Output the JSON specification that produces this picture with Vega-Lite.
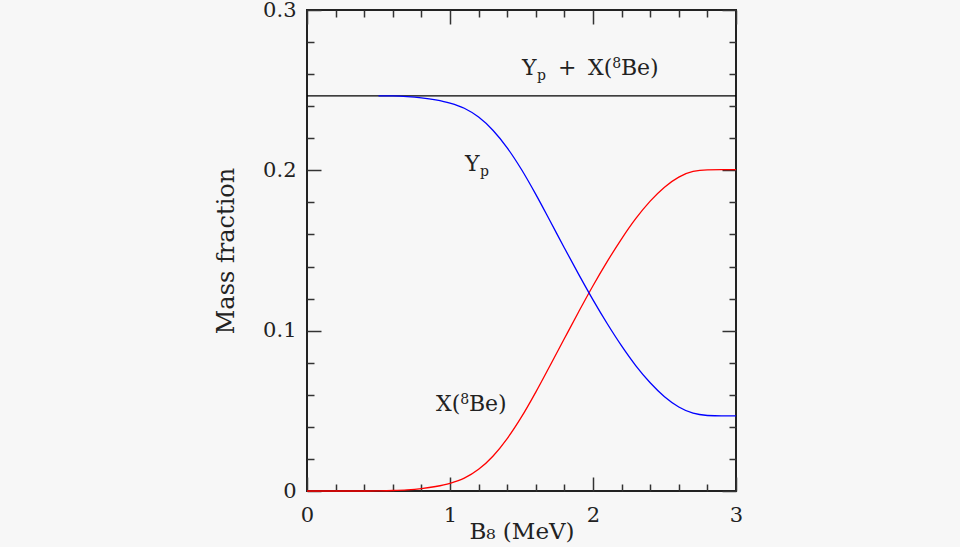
{
  "$schema": "https://vega.github.io/schema/vega-lite/v6.json",
  "width": 429,
  "height": 481,
  "autosize": {"type": "none"},
  "padding": {"left": 307, "top": 10, "right": 224, "bottom": 56},
  "background": "#f7f7f7",
  "config": {
    "view": {"stroke": "#222222", "strokeWidth": 2},
    "font": "DejaVu Serif",
    "text": {"font": "DejaVu Serif", "fontSize": 22, "color": "#222222"}
  },
  "datasets": {
    "curves": [
      {"x": 0.0, "series": "X", "value": 0.0},
      {"x": 0.1, "series": "X", "value": 0.0},
      {"x": 0.2, "series": "X", "value": 0.0},
      {"x": 0.3, "series": "X", "value": 0.0},
      {"x": 0.4, "series": "X", "value": 0.0},
      {"x": 0.5, "series": "X", "value": 0.0001},
      {"x": 0.6, "series": "X", "value": 0.0003},
      {"x": 0.7, "series": "X", "value": 0.0007},
      {"x": 0.8, "series": "X", "value": 0.0015},
      {"x": 0.9, "series": "X", "value": 0.0028},
      {"x": 1.0, "series": "X", "value": 0.0048},
      {"x": 1.1, "series": "X", "value": 0.008},
      {"x": 1.2, "series": "X", "value": 0.0135},
      {"x": 1.3, "series": "X", "value": 0.0217},
      {"x": 1.4, "series": "X", "value": 0.0327},
      {"x": 1.5, "series": "X", "value": 0.0462},
      {"x": 1.6, "series": "X", "value": 0.0617},
      {"x": 1.7, "series": "X", "value": 0.0783},
      {"x": 1.8, "series": "X", "value": 0.0951},
      {"x": 1.9, "series": "X", "value": 0.1118},
      {"x": 2.0, "series": "X", "value": 0.128},
      {"x": 2.1, "series": "X", "value": 0.1432},
      {"x": 2.2, "series": "X", "value": 0.1573},
      {"x": 2.3, "series": "X", "value": 0.17},
      {"x": 2.4, "series": "X", "value": 0.1808},
      {"x": 2.5, "series": "X", "value": 0.1895},
      {"x": 2.6, "series": "X", "value": 0.1958},
      {"x": 2.7, "series": "X", "value": 0.1993},
      {"x": 2.8, "series": "X", "value": 0.2003},
      {"x": 2.9, "series": "X", "value": 0.2004},
      {"x": 3.0, "series": "X", "value": 0.2004},
      {"x": 0.5, "series": "Yp", "value": 0.2465},
      {"x": 0.6, "series": "Yp", "value": 0.2464},
      {"x": 0.7, "series": "Yp", "value": 0.246},
      {"x": 0.8, "series": "Yp", "value": 0.2452},
      {"x": 0.9, "series": "Yp", "value": 0.2439},
      {"x": 1.0, "series": "Yp", "value": 0.2419},
      {"x": 1.1, "series": "Yp", "value": 0.2387},
      {"x": 1.2, "series": "Yp", "value": 0.2332},
      {"x": 1.3, "series": "Yp", "value": 0.225},
      {"x": 1.4, "series": "Yp", "value": 0.214},
      {"x": 1.5, "series": "Yp", "value": 0.2005},
      {"x": 1.6, "series": "Yp", "value": 0.185},
      {"x": 1.7, "series": "Yp", "value": 0.1684},
      {"x": 1.8, "series": "Yp", "value": 0.1516},
      {"x": 1.9, "series": "Yp", "value": 0.1351},
      {"x": 2.0, "series": "Yp", "value": 0.1192},
      {"x": 2.1, "series": "Yp", "value": 0.1043},
      {"x": 2.2, "series": "Yp", "value": 0.0905},
      {"x": 2.3, "series": "Yp", "value": 0.0781},
      {"x": 2.4, "series": "Yp", "value": 0.0675},
      {"x": 2.5, "series": "Yp", "value": 0.0588},
      {"x": 2.6, "series": "Yp", "value": 0.0524},
      {"x": 2.7, "series": "Yp", "value": 0.0485},
      {"x": 2.8, "series": "Yp", "value": 0.0471},
      {"x": 2.9, "series": "Yp", "value": 0.0468},
      {"x": 3.0, "series": "Yp", "value": 0.0468}
    ],
    "total": [
      {"x": 0.0, "series": "total", "value": 0.2465},
      {"x": 3.0, "series": "total", "value": 0.2465}
    ],
    "labels": [
      {"text": "Y", "lx": 1.503, "ly": 0.2595, "size": "big"},
      {"text": "p", "lx": 1.608, "ly": 0.2563, "size": "small"},
      {"text": "+", "lx": 1.755, "ly": 0.2595, "size": "big"},
      {"text": "X(", "lx": 1.965, "ly": 0.2595, "size": "big"},
      {"text": "8", "lx": 2.135, "ly": 0.2638, "size": "small"},
      {"text": "Be)", "lx": 2.195, "ly": 0.2595, "size": "big"},
      {"text": "Y", "lx": 1.105, "ly": 0.1996, "size": "big"},
      {"text": "p", "lx": 1.21, "ly": 0.1965, "size": "small"},
      {"text": "X(", "lx": 0.902, "ly": 0.0499, "size": "big"},
      {"text": "8", "lx": 1.072, "ly": 0.0542, "size": "small"},
      {"text": "Be)", "lx": 1.132, "ly": 0.0499, "size": "big"}
    ]
  },
  "resolve": {"axis": {"x": "independent", "y": "independent"}},
  "layer": [
    {
      "data": {"name": "total"},
      "mark": {"type": "line", "color": "#000000", "strokeWidth": 1.3},
      "encoding": {
        "x": {
          "field": "x", "type": "quantitative",
          "scale": {"domain": [0, 3], "nice": false, "zero": false},
          "axis": {
            "orient": "bottom",
            "values": [0, 0.2, 0.4, 0.6, 0.8, 1, 1.2, 1.4, 1.6, 1.8, 2, 2.2, 2.4, 2.6, 2.8, 3],
            "tickSize": {"condition": {"test": "abs(datum.value - round(datum.value)) < 1e-6", "value": -14}, "value": -7},
            "tickColor": "#333333", "tickWidth": 1.5,
            "labelExpr": "abs(datum.value - round(datum.value)) < 1e-6 ? format(datum.value, 'd') : ''",
            "labelFont": "DejaVu Serif", "labelFontSize": 21, "labelColor": "#222222",
            "labelPadding": 27, "labelFlush": false, "labelOverlap": false,
            "domain": false, "grid": false,
            "title": "B₈ (MeV)", "titleFont": "DejaVu Serif", "titleFontSize": 23,
            "titleFontWeight": "normal", "titleColor": "#222222", "titlePadding": -12
          }
        },
        "y": {
          "field": "value", "type": "quantitative",
          "scale": {"domain": [0, 0.3], "nice": false, "zero": false},
          "axis": {
            "orient": "left",
            "values": [0, 0.02, 0.04, 0.06, 0.08, 0.1, 0.12, 0.14, 0.16, 0.18, 0.2, 0.22, 0.24, 0.26, 0.28, 0.3],
            "tickSize": {"condition": {"test": "abs(datum.value * 10 - round(datum.value * 10)) < 1e-6", "value": -14}, "value": -7},
            "tickColor": "#333333", "tickWidth": 1.5,
            "labelExpr": "abs(datum.value * 10 - round(datum.value * 10)) < 1e-6 ? (datum.value == 0 ? '0' : format(datum.value, '.1f')) : ''",
            "labelFont": "DejaVu Serif", "labelFontSize": 21, "labelColor": "#222222",
            "labelPadding": 25, "labelFlush": false, "labelOverlap": false,
            "domain": false, "grid": false,
            "title": "Mass fraction", "titleFont": "DejaVu Serif", "titleFontSize": 24,
            "titleFontWeight": "normal", "titleColor": "#222222", "titlePadding": 24
          }
        }
      }
    },
    {
      "data": {"name": "curves"},
      "mark": {"type": "line", "strokeWidth": 1.3, "interpolate": "monotone"},
      "encoding": {
        "x": {
          "field": "x", "type": "quantitative",
          "axis": {
            "orient": "top",
            "values": [0, 0.2, 0.4, 0.6, 0.8, 1, 1.2, 1.4, 1.6, 1.8, 2, 2.2, 2.4, 2.6, 2.8, 3],
            "tickSize": {"condition": {"test": "abs(datum.value - round(datum.value)) < 1e-6", "value": -14}, "value": -7},
            "tickColor": "#333333", "tickWidth": 1.5,
            "labels": false, "domain": false, "grid": false, "title": null
          }
        },
        "y": {
          "field": "value", "type": "quantitative",
          "axis": {
            "orient": "right",
            "values": [0, 0.02, 0.04, 0.06, 0.08, 0.1, 0.12, 0.14, 0.16, 0.18, 0.2, 0.22, 0.24, 0.26, 0.28, 0.3],
            "tickSize": {"condition": {"test": "abs(datum.value * 10 - round(datum.value * 10)) < 1e-6", "value": -14}, "value": -7},
            "tickColor": "#333333", "tickWidth": 1.5,
            "labels": false, "domain": false, "grid": false, "title": null
          }
        },
        "color": {
          "field": "series", "type": "nominal",
          "scale": {"domain": ["X", "Yp"], "range": ["#ff0000", "#0000ff"]},
          "legend": null
        }
      }
    },
    {
      "data": {"name": "labels"},
      "mark": {"type": "text", "align": "left", "baseline": "alphabetic"},
      "encoding": {
        "x": {"field": "lx", "type": "quantitative", "axis": null},
        "y": {"field": "ly", "type": "quantitative", "axis": null},
        "text": {"field": "text"},
        "size": {
          "field": "size", "type": "nominal",
          "scale": {"domain": ["big", "small"], "range": [22, 14]},
          "legend": null
        }
      }
    }
  ]
}
